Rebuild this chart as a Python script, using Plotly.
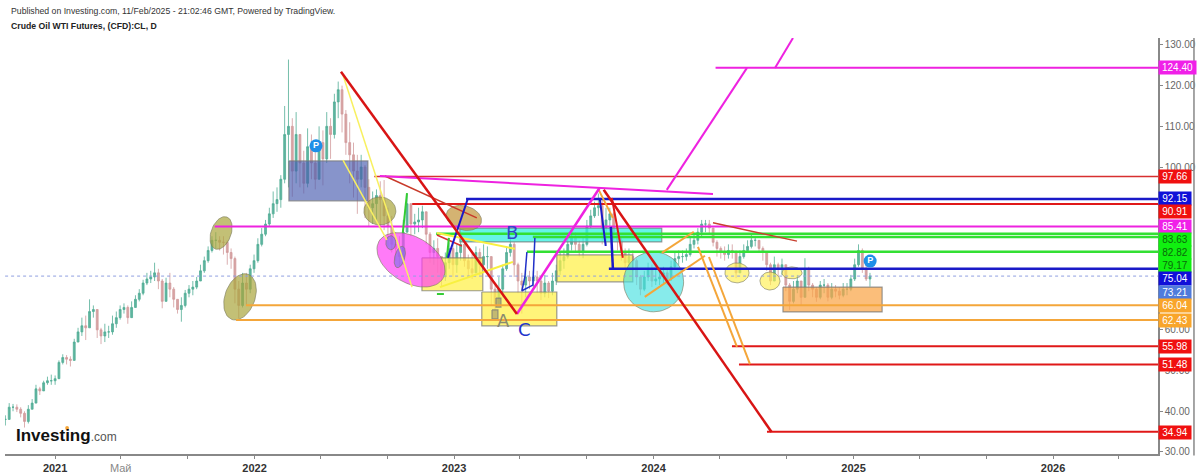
import math
import pandas as pd
import plotly.graph_objects as go

# ---------- price data (weekly) ----------
WEEK_START = "2020-10-02"
CLOSE = [38,41,41,40.5,39.5,37.5,40.5,42,45.5,45,47,47.5,47.5,48,52,53.2,52.8,52.5,57,59.5,
 61,60.5,64.5,65,60,58.5,59.5,59.5,61.5,63,65,65.5,63,65.5,67.5,69,71.5,72.5,73,74,
 72,67,71.5,70,67.5,65,66,69,70,70.5,72,74.5,77,79.5,82,82,81.5,81.5,79,77.5,
 70,66,71.5,70,75,77,81,83.5,86,88.5,91,92,97,108,110,99,108,101,96,105,
 101,97,106,102,110,108,116,119,113,106,103,99,97,100,95,90,91,93,92,88,
 85.5,81,80,78,84,91,86,86.5,87,89,83.5,79,80,78,73,76.5,80,76,79,81,
 77,75,74,79,76,78,78,70,66.5,70,75,79,81,76,72,71,73,72,73,72,
 69,71.5,69.5,72,74.5,77,78,81,83,81,79,81,85.5,88,90,90.5,85,87,88.5,84,
 82,79,76.5,78,77,73,70,73,75,72,72.5,73,74,72.5,75.5,77.5,78,78,78.5,81,
 82,84,86,86,85,81.5,80,79,78.5,79.5,79,74,78,79.5,80.5,82,82,80,79,76,
 72,76,75,76,71,67,70,72,68,75,71,70,68,71,71,68,70,69.5,68.5,70,
 70,72.5,76,79.5,75,72.5,73.21]
HIGH = [39,42,41.8,41.7,41,40,41.5,43,46.5,46,47.5,48.5,49,48.8,52.5,54,53.8,53.5,57.8,60.5,
 63,63.5,67.5,66,64.5,60.5,61.5,61,63.5,64.5,66,66.5,66,67,68.5,70,72.3,74,74.5,76.5,
 75,72.5,72.8,74,70.5,67.5,68,69.8,71,72,73,76,78,80.5,83,84,83,83,82,80,
 78,72,74,74,76,78.5,82.5,85,87,90,94,95,98,115,126.4,112,113.5,107.5,104,109.5,
 108,104,110,109,113.5,112,118,121,120,114,111,106,103,103,100.5,97,94,94.5,96.5,96.8,
 90,88,84,83,87,93.5,90,88.5,90,90.5,88.5,84,82,82.5,78,79,81.5,81,81,83,
 82,78.5,79,80.5,80,81,80.5,78,71,73,76,80.5,83,81.5,76.5,74,75,74.5,74.5,74.5,
 73,73.5,72,74,76,79,80,82.5,84,84,82,83,87,89.5,91.5,93.5,92,90,90,89,
 85.5,83,80,80,79.5,77.5,73.5,74.5,76.5,76,75,74.5,75.5,75,77,79,79.5,79.5,80,83,
 83.5,85,87,87,87,85,82,80.5,80.5,81,81,79.5,79.5,81,82,83.5,83,81.5,80.5,79,
 76.5,78,76.5,77.5,76,71.5,72,73.5,72,77.6,75.5,71.5,70.5,72,72.5,71.5,71.5,71,70.5,71.5,
 71.5,73.5,77.5,81,80,76,74]
LOW = [36.5,38,40,39.8,38.5,36,37,40.5,42,44,45,46.5,46.5,46.5,48,51.5,51.5,51,52.5,57,
 58.5,57.5,60.5,63,58,56.5,57,58,58.8,60.5,62.5,64,61.5,63,65.5,67,68.5,71,71.5,72,
 70,65.3,67,68,65.5,64,62,65.5,68,68.5,70,72,74,76.5,79,80,79.5,78.5,76,75,
 66.5,62.8,65.5,66,69,74,76.5,80.5,83,85.5,87.5,89,90,96,95,92.7,96,95,93.5,95,
 97,94.5,97,95.5,101,102,107,112,108.5,103,96,92.5,88.5,95,87.5,85.5,86,86.5,85,84.5,
 80.5,79,77,75.5,76,84,83,83.5,84,85,81,76.5,76,74,70.5,72,75,73,74,77,
 75.5,73,72.5,74,73.5,75,75,66,64.5,66,68,74.5,78,73,69,64,68,70,70.5,69,
 67.3,68,67.8,68.5,71,73.5,75,77.5,79.5,79,78,77.6,80.5,85,87.5,88,81,80.9,85,82,
 79.5,77,75,75,74.5,71,68.5,69.5,72,70.5,71,71,71.5,71,72,75,76,76.5,77,78,
 80,81,83,84,83.5,80.5,78,77.5,77,77.5,77.5,72.7,75,77.5,79,80,80.5,79,77,74.5,
 71,72,73,73.5,69.5,64.9,66.5,69,66,68,69.5,68,66.9,67.5,69,67,67.5,68,67.5,68,
 68.5,69.5,72,75.5,74,72,70.6]

# ---------- level lines: price, start (decimal year), colour, width ----------
LEVEL_PRICE = [124.40,97.66,92.15,90.91,85.41,83.63,82.82,79.17,75.04,73.21,66.04,62.43,55.98,51.48,34.94]
LEVEL_START = [2024.31,2022.60,2023.06,2022.79,2021.80,2022.91,2023.395,2023.365,2023.776,2020.75,2021.957,2021.907,2024.392,2024.427,2024.567]
LEVEL_COLOR = ["#ee22e0","#d83030","#1a1ac8","#e01818","#ee22e0","#33e033","#33e033","#33e033","#1a1ac8","#8f9fe0","#f4a63a","#f4a63a","#e01818","#e01818","#e01818"]
LEVEL_WIDTH = [2,1.5,2.5,2,2,2.5,2.5,2.5,2.5,1,2,2,2,2,2]
LEVEL_LABEL_Y = [124.40,97.56,92.16,89.0,85.3,82.1,78.9,75.7,72.5,69.1,65.9,62.4,55.8,51.4,34.9]
LEVEL_LABEL_BG = ["#f020e8","#f01010","#1010d8","#f01010","#f020e8","#10f010","#10f010","#10f010","#1010d8","#4f7bdc","#f9a52a","#f9a52a","#f01010","#f01010","#f01010"]
LEVEL_LABEL_FG = ["#ffffff","#ffffff","#ffffff","#ffffff","#ffffff","#0a6a0a","#0a6a0a","#0a6a0a","#ffffff","#ffffff","#ffffff","#ffffff","#ffffff","#ffffff","#ffffff"]

# ---------- drawn trend lines: years, prices, colour, width ----------
TRENDS = [
 ([2022.443,2022.789],[122.6,70.5],"#f8f060",1.5),
 ([2022.443,2022.663],[101.7,82.1],"#f8f060",1.5),
 ([2022.929,2023.295],[70.5,76.7],"#f8f040",2),
 ([2022.914,2023.305],[83.8,79.9],"#f8f040",2),
 ([2022.653,2023.114],[97.8,87.5],"#c83a2a",1.5),
 ([2022.914,2023.039],[83.3,80.6],"#d83030",1.5),
 ([2022.764,2022.743],[93.6,83.8],"#33cc33",2),
 ([2022.974,2022.964],[82.6,77.7],"#33cc33",2),
 ([2022.914,2022.949],[68.8,68.8],"#33cc33",2),
 ([2023.069,2022.969],[92.2,77.7],"#1a1ac8",2),
 ([2023.73,2023.76],[92.4,80.6],"#1a1ac8",2),
 ([2023.786,2023.796],[85.3,75.2],"#1a1ac8",2.5),
 ([2023.365,2023.355,2023.34,2023.395,2023.405],[79.1,73.0,69.6,71.0,82.6],"#2030c8",1.5),
 ([2023.725,2023.796],[94.4,87.5],"#f4a63a",2),
 ([2024.041,2024.201],[78.9,84.1],"#f4a63a",2),
 ([2023.956,2024.257],[68.1,78.2],"#f4a63a",2),
 ([2024.222,2024.417],[80.4,55.8],"#f4a63a",2),
 ([2024.277,2024.482],[77.9,51.6],"#f4a63a",2),
 ([2024.297,2024.717],[86.3,81.8],"#c84030",1.5),
 ([2023.791,2023.846],[92.4,77.7],"#e01818",2),
 ([2022.628,2024.297],[97.8,93.4],"#ee22e0",2),
 ([2023.315,2023.73],[63.9,94.9],"#ee22e0",2.5),
 ([2024.066,2024.467],[94.4,124.35],"#ee22e0",2),
 ([2024.607,2024.697],[124.35,131.7],"#ee22e0",2),
 ([2022.433,2023.315],[123.4,63.9],"#d81414",2.5),
 ([2023.75,2024.59],[94.4,34.9],"#d81414",2.5),
]

# ---------- boxes: year0, year1, price0, price1, fill ----------
BOXES = [
 (2022.172,2022.568,101.5,91.7,"rgba(70,90,175,0.65)"),
 (2022.839,2023.144,77.7,69.6,"rgba(255,240,70,0.72)"),
 (2023.139,2023.515,69.3,61.0,"rgba(255,240,70,0.72)"),
 (2023.515,2023.896,78.4,71.8,"rgba(255,240,70,0.72)"),
 (2023.029,2024.041,85.0,81.6,"rgba(50,240,225,0.75)"),
 (2024.647,2025.143,70.5,64.4,"rgba(250,165,70,0.72)"),
 (2023.19,2023.22,64.9,62.7,"rgba(170,160,110,0.7)"),
 (2023.21,2023.235,67.8,65.6,"rgba(170,160,110,0.7)"),
]

# ---------- ellipses: year, price, semi-major px, semi-minor px, angle, fill ----------
ELLIPSES = [
 (2021.832,83.8,17,10,70,"rgba(170,165,60,0.7)"),
 (2021.927,68.1,24,15,70,"rgba(170,165,60,0.7)"),
 (2022.628,89.2,16,14,0,"rgba(170,165,60,0.7)"),
 (2022.784,77.2,37,23,-30,"rgba(255,60,245,0.68)"),
 (2023.049,87.5,18,12,-15,"rgba(195,150,60,0.72)"),
 (2024.0,71.8,30,30,0,"rgba(70,225,225,0.65)"),
 (2024.417,74.0,12,10,0,"rgba(255,240,80,0.65)"),
 (2024.582,72.0,10,9,0,"rgba(255,240,80,0.65)"),
 (2024.692,74.0,10,6,0,"rgba(255,240,80,0.65)"),
 (2022.683,81.4,7,5,90,"rgba(130,110,235,0.65)"),
 (2022.728,77.9,11,5,75,"rgba(130,110,235,0.65)"),
]

TICK_DATES = ["2021-01-01","2021-05-01","2021-09-01","2022-01-01","2022-05-01","2022-09-01","2023-01-01","2023-05-01","2023-09-01",
              "2024-01-01","2024-05-01","2024-09-01","2025-01-01","2025-05-01","2025-09-01","2026-01-01","2026-05-01"]
TICK_TEXT = ["<b>2021</b>","<span style='color:#888'>Май</span>","","<b>2022</b>","","","<b>2023</b>","","",
             "<b>2024</b>","","","<b>2025</b>","","","<b>2026</b>",""]
PRICE_TICKS = [130,120,110,100,60,50,40,30]
PIVOT_YEAR = [2022.308,2025.083]
PIVOT_PRICE = [105.2,76.9]
LETTERS = [("B",2023.29,84.0,"#3344cc"),("A",2023.25,62.4,"#8a8a70"),("C",2023.355,60.0,"#2233cc")]

X_END = 2026.526
Y_RANGE = [29.5,131.7]
PX_PER_YEAR = 199.6
PX_PER_PRICE = 4.07
FONT = "Liberation Sans, Arial, sans-serif"


def d(y):
    yr = int(y)
    start = pd.Timestamp(year=yr, month=1, day=1)
    days = (pd.Timestamp(year=yr + 1, month=1, day=1) - start).days
    return (start + pd.Timedelta(days=(y - yr) * days)).strftime("%Y-%m-%d %H:%M")


dates = pd.date_range(WEEK_START, periods=len(CLOSE), freq="7D")
OPEN = [CLOSE[0]] + CLOSE[:-1]

fig = go.Figure()
fig.add_trace(go.Candlestick(
    x=dates, open=OPEN, high=HIGH, low=LOW, close=CLOSE,
    increasing=dict(line=dict(color="#52ad96", width=0.8), fillcolor="#5fb5a0"),
    decreasing=dict(line=dict(color="#d29a9c", width=0.8), fillcolor="#d8a4a4"),
    whiskerwidth=0, hoverinfo="skip", showlegend=False))

for y0, y1, p0, p1, fill in BOXES:
    fig.add_trace(go.Scatter(x=[d(y0), d(y1), d(y1), d(y0), d(y0)], y=[p0, p0, p1, p1, p0],
                             mode="lines", fill="toself", fillcolor=fill,
                             line=dict(color="rgba(120,120,120,0.75)", width=1.2),
                             hoverinfo="skip", showlegend=False))

for cy, cp, a, b, ang, fill in ELLIPSES:
    xs, ys = [], []
    t = math.radians(ang)
    for k in range(61):
        u = 2 * math.pi * k / 60
        dx = a * math.cos(u) * math.cos(t) - b * math.sin(u) * math.sin(t)
        dy = a * math.cos(u) * math.sin(t) + b * math.sin(u) * math.cos(t)
        xs.append(d(cy + dx / PX_PER_YEAR))
        ys.append(cp + dy / PX_PER_PRICE)
    fig.add_trace(go.Scatter(x=xs, y=ys, mode="lines", fill="toself", fillcolor=fill,
                             line=dict(color="rgba(120,120,90,0.6)", width=1),
                             hoverinfo="skip", showlegend=False))

for p, s, c, w in zip(LEVEL_PRICE, LEVEL_START, LEVEL_COLOR, LEVEL_WIDTH):
    fig.add_trace(go.Scatter(x=[d(s), d(X_END)], y=[p, p], mode="lines",
                             line=dict(color=c, width=w, dash="dot" if p == 73.21 else "solid"),
                             hoverinfo="skip", showlegend=False))

for xs, ys, c, w in TRENDS:
    fig.add_trace(go.Scatter(x=[d(v) for v in xs], y=ys, mode="lines",
                             line=dict(color=c, width=w), hoverinfo="skip", showlegend=False))

fig.add_trace(go.Scatter(x=[d(v) for v in PIVOT_YEAR], y=PIVOT_PRICE, mode="markers+text", text=["<b>P</b>"] * 2,
                         textposition="middle center", textfont=dict(color="white", size=9, family=FONT),
                         marker=dict(size=13, color="#1e8fe8"), hoverinfo="skip", showlegend=False))

ann = []
for txt, py, bg, fg, p in zip(LEVEL_PRICE, LEVEL_LABEL_Y, LEVEL_LABEL_BG, LEVEL_LABEL_FG, LEVEL_PRICE):
    ann.append(dict(x=1, xref="paper", y=py, yref="y", xanchor="left", yanchor="middle",
                    text=f"{txt:.2f}", showarrow=False, bgcolor=bg, borderpad=0,
                    width=37 if p == 124.40 else 32, height=13, align="center",
                    font=dict(color=fg, size=10, family=FONT)))
for t, yr, p, c in LETTERS:
    ann.append(dict(x=d(yr), y=p, xref="x", yref="y", text=t, showarrow=False,
                    font=dict(color=c, size=18, family="DejaVu Sans")))
ann.append(dict(x=0.0035, y=1.0649, xref="paper", yref="paper", xanchor="left", yanchor="middle", showarrow=False,
                text="Published on Investing.com, 11/Feb/2025 - 21:02:46 GMT, Powered by TradingView.",
                font=dict(color="#333333", size=8.7, family=FONT)))
ann.append(dict(x=0.0035, y=1.0288, xref="paper", yref="paper", xanchor="left", yanchor="middle", showarrow=False,
                text="<b>Crude Oil WTI Futures, (CFD):CL, D</b>",
                font=dict(color="#222222", size=8.7, family=FONT)))
ann.append(dict(x=0.008, y=0.0433, xref="paper", yref="paper", xanchor="left", yanchor="middle", showarrow=False,
                text="<b>Investing</b><span style='font-size:12px;color:#555555'>.com</span>",
                font=dict(color="#111111", size=17, family=FONT)))
# white patch: the lowest price label is cut off by the chart's edge in the reference
ann.append(dict(x=1.002, y=-0.002, xref="paper", yref="paper", xanchor="left", yanchor="top", showarrow=False,
                text=" ", bgcolor="white", width=36, height=16, borderpad=0))

shapes = [
    dict(type="line", xref="paper", yref="paper", x0=1.0312, x1=1.0312, y0=-0.0337, y1=1,
         line=dict(color="#888888", width=1.5)),
    dict(type="circle", xref="paper", yref="paper", x0=0.0522, x1=0.0555, y0=0.0577, y1=0.0673,
         fillcolor="#f4a63a", line=dict(width=0)),
]

fig.update_layout(
    width=1200, height=473, margin=dict(l=5, r=42, t=38, b=19, autoexpand=False),
    paper_bgcolor="white", plot_bgcolor="white", showlegend=False,
    font=dict(family=FONT), annotations=ann, shapes=shapes,
    xaxis=dict(type="date", range=[d(2020.7495), d(X_END)], rangeslider=dict(visible=False), automargin=False,
               tickmode="array", tickvals=TICK_DATES, ticktext=TICK_TEXT, ticks="outside", ticklen=3,
               tickcolor="#888888", showgrid=False, zeroline=False, showline=True, linecolor="#888888", linewidth=1.5,
               tickfont=dict(size=11, color="#333333", family=FONT)),
    yaxis=dict(side="right", range=Y_RANGE, tickmode="array", tickvals=PRICE_TICKS, automargin=False,
               ticktext=[f"{v:.2f}" for v in PRICE_TICKS], ticks="outside", ticklen=3,
               tickcolor="#888888", showgrid=False, zeroline=False, showline=True, linecolor="#888888", linewidth=1.5,
               tickfont=dict(size=10, color="#666666", family=FONT)),
)

fig.write_html("out.html", config=dict(displayModeBar=False),
               post_script="document.body.style.margin='0';document.body.style.overflow='hidden';")
